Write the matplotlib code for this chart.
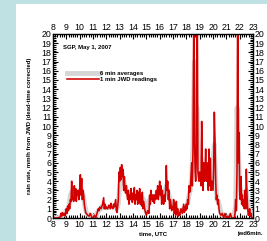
import numpy as np
import matplotlib
matplotlib.use("Agg")
import matplotlib.pyplot as plt
from matplotlib.patches import Rectangle
from matplotlib.ticker import MultipleLocator

plt.rcParams['font.family'] = ['Liberation Sans', 'DejaVu Sans']

# === 1 min JWD readings (hour UTC, mm/h) ===
red_t = [8.0, 8.3, 8.55, 8.6, 8.65, 8.7, 8.8, 8.85, 8.9, 9.0,
         9.05, 9.1, 9.15, 9.2, 9.25, 9.3, 9.35, 9.4, 9.45, 9.5,
         9.55, 9.6, 9.65, 9.7, 9.75, 9.8, 9.85, 9.9, 9.95, 10.0,
         10.05, 10.1, 10.15, 10.2, 10.25, 10.3, 10.35, 10.4, 10.45, 10.5,
         10.6, 10.7, 10.8, 10.9, 11.0, 11.1, 11.2, 11.3, 11.4, 11.45,
         11.5, 11.6, 11.7, 11.8, 11.85, 11.9, 11.95, 12.0, 12.1, 12.2,
         12.3, 12.35, 12.4, 12.5, 12.55, 12.6, 12.7, 12.75, 12.8, 12.9,
         12.95, 13.0, 13.05, 13.1, 13.15, 13.2, 13.25, 13.3, 13.35, 13.4,
         13.45, 13.5, 13.55, 13.6, 13.65, 13.7, 13.75, 13.8, 13.85, 13.9,
         13.95, 14.0, 14.05, 14.1, 14.15, 14.2, 14.25, 14.3, 14.35, 14.4,
         14.45, 14.5, 14.55, 14.6, 14.65, 14.7, 14.75, 14.8, 14.9, 15.0,
         15.1, 15.2, 15.25, 15.3, 15.35, 15.4, 15.45, 15.5, 15.55, 15.6,
         15.65, 15.7, 15.75, 15.8, 15.85, 15.9, 15.95, 16.0, 16.05, 16.1,
         16.15, 16.2, 16.25, 16.3, 16.35, 16.4, 16.45, 16.5, 16.55, 16.6,
         16.65, 16.7, 16.75, 16.8, 16.85, 16.9, 16.95, 17.0, 17.05, 17.1,
         17.15, 17.2, 17.25, 17.3, 17.35, 17.4, 17.45, 17.5, 17.6, 17.7,
         17.8, 17.85, 17.9, 17.95, 18.0, 18.05, 18.1, 18.15, 18.2, 18.25,
         18.3, 18.35, 18.4, 18.45, 18.5, 18.55, 18.58, 18.62, 18.66, 18.7,
         18.74, 18.8, 18.83, 18.87, 18.9, 18.95, 19.0, 19.05, 19.1, 19.15,
         19.2, 19.25, 19.3, 19.35, 19.4, 19.45, 19.5, 19.55, 19.6, 19.65,
         19.7, 19.75, 19.8, 19.85, 19.9, 19.95, 20.0, 20.05, 20.1, 20.15,
         20.2, 20.25, 20.3, 20.35, 20.4, 20.45, 20.5, 20.6, 20.7, 20.8,
         20.9, 21.0, 21.1, 21.2, 21.3, 21.4, 21.5, 21.6, 21.65, 21.7,
         21.75, 21.8, 21.84, 21.87, 21.91, 21.95, 22.0, 22.05, 22.1, 22.15,
         22.2, 22.25, 22.3, 22.35, 22.4, 22.45, 22.5, 22.55, 22.6, 22.65,
         22.7, 22.75, 22.8, 22.85, 22.9, 22.95, 23.0]
red_v = [0.0, 0.0, 0.1, 0.5, 0.2, 0.6, 0.3, 0.5, 0.2, 1.0,
         0.5, 1.3, 0.8, 1.5, 1.0, 2.0, 1.8, 4.0, 2.0, 2.2,
         1.8, 3.5, 2.0, 3.2, 1.8, 3.0, 2.5, 3.0, 2.0, 2.8,
         4.7, 2.5, 4.3, 2.0, 3.0, 2.5, 1.5, 1.0, 0.6, 0.5,
         0.3, 0.2, 0.5, 0.1, 0.0, 0.3, 0.0, 0.5, 1.0, 0.8,
         1.2, 1.0, 1.4, 2.2, 1.0, 1.5, 1.0, 1.2, 1.0, 1.4,
         1.0, 1.6, 1.2, 1.0, 1.5, 1.2, 2.0, 0.8, 0.6, 2.0,
         5.0, 4.0, 5.5, 4.2, 5.8, 4.5, 5.3, 3.0, 4.5, 3.0,
         2.7, 3.5, 2.5, 2.0, 3.0, 1.5, 2.5, 2.0, 3.2, 2.3,
         1.7, 2.7, 2.0, 3.3, 1.5, 2.5, 2.0, 3.0, 1.5, 2.8,
         1.8, 3.2, 1.5, 2.5, 1.3, 2.8, 1.0, 1.8, 0.8, 0.3,
         0.8, 0.5, 2.5, 1.5, 3.0, 2.0, 2.5, 1.8, 2.5, 1.6,
         2.5, 2.0, 3.0, 2.2, 3.5, 2.0, 2.8, 4.0, 2.5, 3.5,
         1.5, 3.0, 2.0, 1.5, 2.5, 1.8, 3.0, 5.7, 3.0, 4.0,
         2.0, 3.0, 1.0, 2.0, 1.5, 0.8, 1.2, 1.0, 2.0, 0.5,
         1.5, 0.3, 1.8, 0.5, 1.0, 0.2, 0.6, 0.3, 1.0, 0.5,
         1.5, 0.6, 1.2, 0.8, 1.5, 1.0, 2.0, 1.5, 3.5, 2.8,
         3.0, 4.5, 6.0, 3.5, 7.5, 20.0, 20.0, 8.0, 5.0, 4.0,
         6.0, 20.0, 20.0, 5.0, 4.5, 4.0, 5.0, 4.5, 3.5, 10.5,
         5.0, 3.0, 6.0, 4.0, 5.0, 7.5, 4.0, 6.0, 4.8, 3.0,
         7.5, 3.5, 6.5, 3.0, 4.0, 3.5, 3.0, 5.5, 11.5, 8.5,
         4.0, 2.0, 2.5, 1.5, 2.0, 1.0, 0.5, 0.3, 0.5, 0.0,
         0.5, 0.0, 0.2, 0.0, 0.5, 0.0, 0.0, 0.0, 0.5, 2.0,
         0.8, 5.0, 20.0, 20.0, 6.0, 9.3, 3.0, 2.0, 4.5, 1.5,
         2.5, 1.3, 2.0, 1.0, 3.0, 1.0, 5.3, 2.5, 1.0, 0.3,
         0.5, 1.0, 0.2, 0.5, 0.0, 0.0, 0.0]

# === 6 min averages (every 0.1 h from 8 to 23 UTC) ===
gray_v = [0, 0, 0, 0, 0, 0, 0.2, 0.3, 0.4, 0.4,
          0.8, 1.0, 1.3, 2.5, 2.8, 2.5, 2.6, 2.3, 2.5, 2.6,
          3.0, 3.2, 2.8, 2.2, 1.2, 0.6, 0.4, 0.3, 0.3, 0.2,
          0.1, 0.1, 0.2, 0.5, 0.8, 0.9, 1.0, 1.3, 1.3, 1.2,
          1.1, 1.1, 1.2, 1.2, 1.2, 1.3, 1.3, 1.2, 1.0, 1.5,
          3.5, 4.5, 4.8, 4.0, 3.5, 3.0, 2.8, 2.5, 2.3, 2.2,
          2.2, 2.2, 2.3, 2.5, 2.4, 2.3, 2.3, 2.2, 2.0, 1.3,
          0.6, 0.8, 1.8, 2.2, 2.3, 2.2, 2.3, 2.4, 2.6, 2.7,
          3.0, 2.8, 2.3, 2.2, 3.0, 3.5, 3.0, 2.5, 2.0, 1.8,
          1.3, 1.2, 1.0, 0.9, 0.8, 0.7, 0.8, 0.9, 1.0, 1.0,
          1.3, 1.6, 2.5, 3.0, 4.5, 8.0, 17.0, 12.0, 12.0, 6.0,
          5.0, 6.5, 5.0, 5.0, 5.5, 5.5, 4.8, 5.0, 4.0, 4.2,
          6.0, 8.0, 4.0, 2.0, 1.8, 1.2, 0.6, 0.3, 0.2, 0.1,
          0.1, 0.1, 0.2, 0.1, 0.1, 0.2, 0.6, 1.2, 12.0, 8.0,
          3.5, 2.5, 2.8, 2.5, 2.5, 3.0, 1.5, 1.0, 0.8, 0.5,
          0.2]
gray_t = np.linspace(8, 23, len(gray_v))

fig = plt.figure(figsize=(2.67, 2.41), dpi=100)
fig.patch.set_facecolor('#bfe1e4')
fig.patches.append(Rectangle((16 / 267, 0), 1, 1 - 4 / 241, transform=fig.transFigure,
                             facecolor='white', edgecolor='none', zorder=-5))

ax = fig.add_axes([53 / 267, 1 - 218 / 241, 200 / 267, 184 / 241])
ax.plot(gray_t, gray_v, color='#d6d6d6', lw=3.5, label='6 min averages', solid_joinstyle='round')
ax.plot(red_t, red_v, color='#d40000', lw=1.15, label='1 min JWD readings')

ax.set_xlim(8, 23)
ax.set_ylim(0, 20)
ax.xaxis.set_major_locator(MultipleLocator(1))
ax.xaxis.set_minor_locator(MultipleLocator(1 / 6))
ax.yaxis.set_major_locator(MultipleLocator(1))
ax.yaxis.set_minor_locator(MultipleLocator(0.2))
ax.tick_params(which='both', direction='in', top=True, right=True,
               labeltop=True, labelright=True, labelsize=6.3, pad=1.2, width=0.8)
ax.tick_params(which='major', length=3.5)
ax.tick_params(which='minor', length=2)
for s in ax.spines.values():
    s.set_linewidth(1.0)

ax.text(0.05, 0.925, 'SGP, May 1, 2007', transform=ax.transAxes, fontsize=4.3,
        fontweight='bold', va='center')
ax.legend(loc='upper left', bbox_to_anchor=(0.07, 0.8), frameon=False,
          handlelength=5.3, handletextpad=0.3, labelspacing=0.2,
          borderpad=0, borderaxespad=0,
          prop={'weight': 'bold', 'size': 4.3})

ax.set_xlabel('time, UTC', fontsize=4.3, fontweight='bold', labelpad=2)
ax.set_ylabel('rain rate, mm/h from JWD (dead-time corrected)', fontsize=4.3,
              fontweight='bold', labelpad=7)
fig.text(250 / 267, 1 - 233 / 241, 'jwd6min.', fontsize=4.3, fontweight='bold',
         ha='center', va='center')

fig.savefig('out.png', dpi=100, facecolor=fig.get_facecolor())
